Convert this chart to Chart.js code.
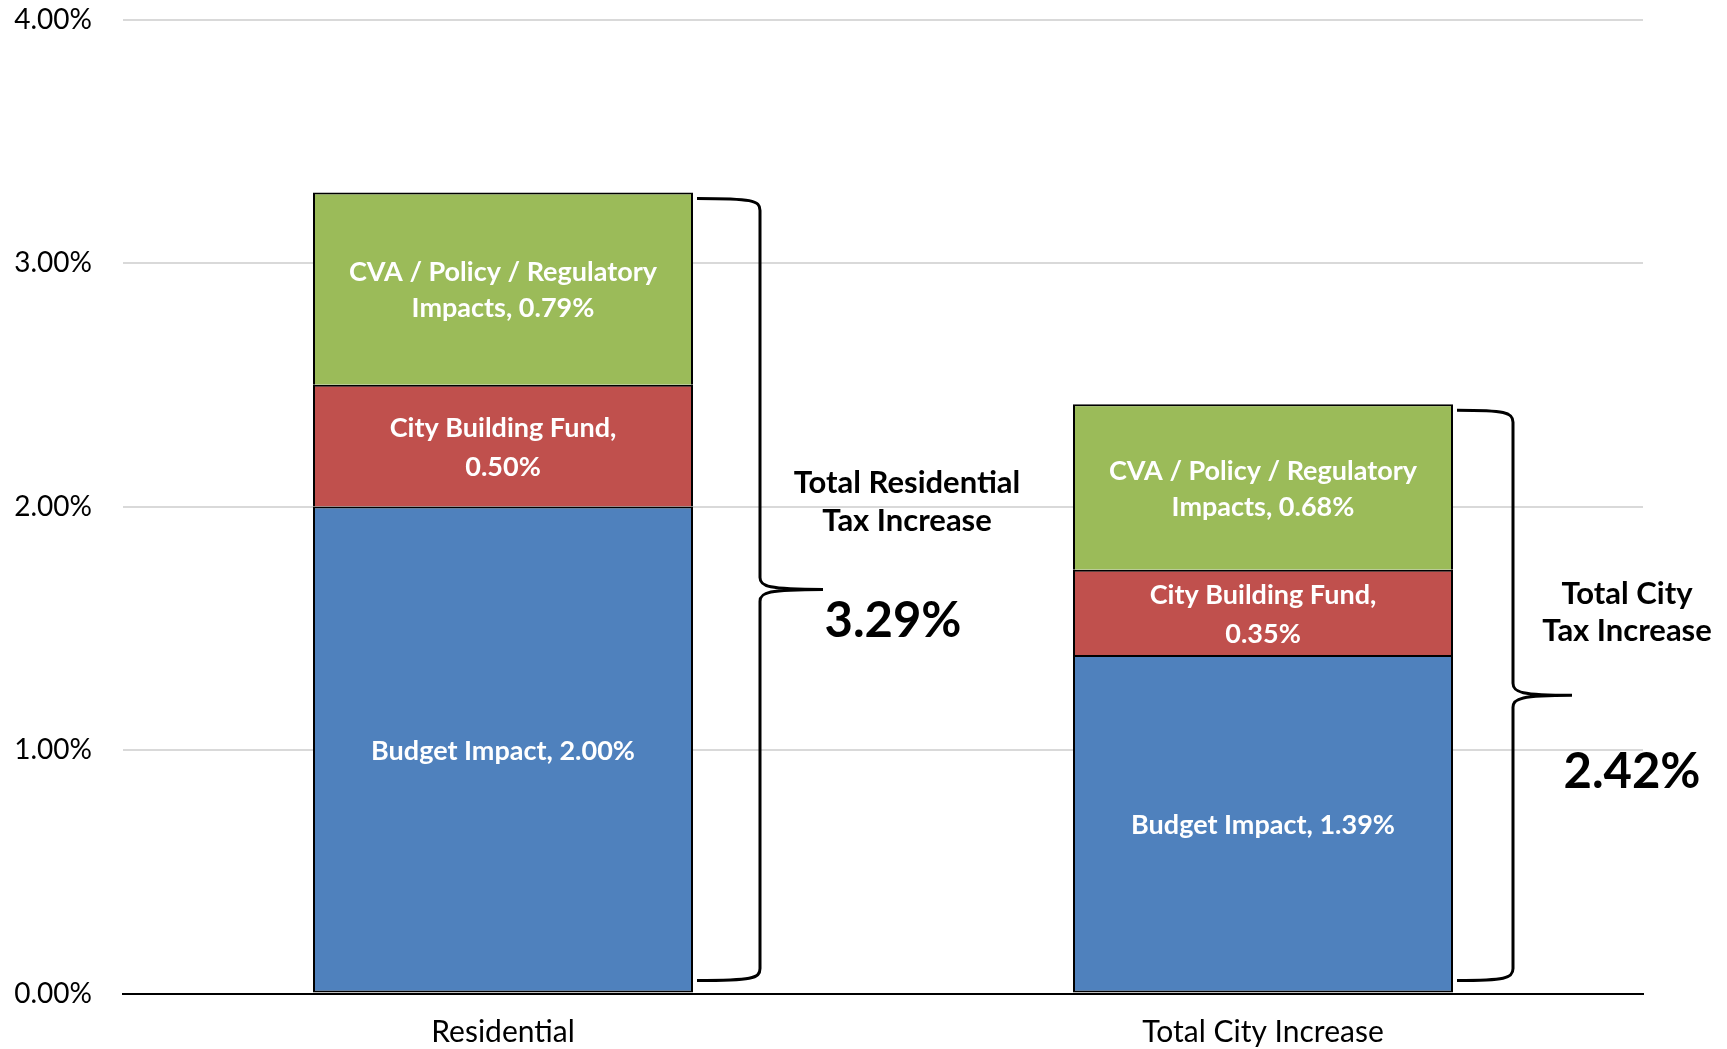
<!DOCTYPE html>
<html>
<head>
<meta charset="utf-8">
<script src="https://cdn.jsdelivr.net/npm/chart.js@4.4.0/dist/chart.umd.min.js"></script>
<style>
html, body { margin: 0; padding: 0; background: #fff; }
#wrap { width: 1727px; height: 1049px; }
</style>
</head>
<body>
<div id="wrap"><canvas id="graphCanvas" width="1727" height="1049"></canvas></div>
<script>
// chart values
var categories = ['Residential', 'Total City Increase'];
var budgetImpact = [2.00, 1.39];
var cityBuildingFund = [0.50, 0.35];
var cvaImpacts = [0.79, 0.68];
var yMin = 0, yMax = 4, yStep = 1;
var totalTitles = [['Total Residential', 'Tax Increase'], ['Total City', 'Tax Increase']];

function pct(v) { return v.toFixed(2) + '%'; }

// how each segment label wraps
var labelLines = [
    function (v) { return ['Budget Impact, ' + pct(v)]; },
    function (v) { return ['City Building Fund,', pct(v)]; },
    function (v) { return ['CVA / Policy / Regulatory', 'Impacts, ' + pct(v)]; }
];
var labelGap = [36, 39, 36];

// brace + text placement, relative to bar right edge / brace tip
var braceStyle = [
    { stem: 67, tip: 130, tx: 214, ty1: -106, ty2: -68, bx: 200, by: 32 },
    { stem: 60, tip: 119, tx: 174, ty1: -101, ty2: -64, bx: 179, by: 77 }
];

var segmentLabels = {
    id: 'segmentLabels',
    afterDatasetsDraw: function (chart) {
        var ctx = chart.ctx;
        ctx.save();
        ctx.fillStyle = '#ffffff';
        ctx.font = 'bold 27px Lato';
        ctx.textAlign = 'center';
        ctx.textBaseline = 'middle';
        chart.data.datasets.forEach(function (ds, i) {
            var meta = chart.getDatasetMeta(i);
            meta.data.forEach(function (bar, j) {
                var lines = labelLines[i](ds.data[j]);
                var cy = (bar.y + bar.base) / 2 + 2;
                var lh = labelGap[i];
                var start = cy - (lines.length - 1) * lh / 2;
                lines.forEach(function (t, k) {
                    ctx.fillText(t, bar.x, start + k * lh);
                });
            });
        });
        ctx.restore();
    }
};

var braces = {
    id: 'braces',
    afterDatasetsDraw: function (chart) {
        var ctx = chart.ctx;
        var y = chart.scales.y;
        var meta0 = chart.getDatasetMeta(0);
        ctx.save();
        categories.forEach(function (c, j) {
            var total = budgetImpact[j] + cityBuildingFund[j] + cvaImpacts[j];
            var bar = meta0.data[j];
            var right = bar.x + bar.width / 2;
            var s = braceStyle[j];
            var x0 = right + 4, x1 = right + s.stem, x2 = right + s.tip;
            var yTop = y.getPixelForValue(total) + 6;
            var yBot = y.getPixelForValue(0) - 13;
            var yMid = (yTop + yBot) / 2;

            ctx.strokeStyle = '#000';
            ctx.lineWidth = 3;
            ctx.lineJoin = 'round';
            ctx.beginPath();
            ctx.moveTo(x0, yTop);
            ctx.bezierCurveTo(x1 - 8, yTop, x1, yTop + 2, x1, yTop + 12);
            ctx.lineTo(x1, yMid - 12);
            ctx.bezierCurveTo(x1, yMid - 3, x1 + 8, yMid, x2, yMid);
            ctx.moveTo(x2, yMid);
            ctx.bezierCurveTo(x1 + 8, yMid, x1, yMid + 3, x1, yMid + 12);
            ctx.lineTo(x1, yBot - 12);
            ctx.bezierCurveTo(x1, yBot - 2, x1 - 8, yBot, x0, yBot);
            ctx.stroke();

            ctx.fillStyle = '#000';
            ctx.textAlign = 'center';
            ctx.textBaseline = 'middle';
            ctx.font = 'bold 31px Lato';
            ctx.fillText(totalTitles[j][0], right + s.tx, yMid + s.ty1);
            ctx.fillText(totalTitles[j][1], right + s.tx, yMid + s.ty2);
            ctx.font = 'bold 49px Lato';
            ctx.fillText(pct(total), right + s.bx, yMid + s.by);
        });
        ctx.restore();
    }
};

var side = { top: 2, left: 2, right: 2, bottom: 0 };
var all = { top: 2, left: 2, right: 2, bottom: 2 };

var chartdata = {
    labels: categories,
    datasets: [
        { label: 'Budget Impact', data: budgetImpact, backgroundColor: '#4F81BD',
          borderColor: '#000', borderWidth: all, borderSkipped: false },
        { label: 'City Building Fund', data: cityBuildingFund, backgroundColor: '#C0504D',
          borderColor: '#000', borderWidth: side, borderSkipped: false },
        { label: 'CVA / Policy / Regulatory Impacts', data: cvaImpacts, backgroundColor: '#9BBB59',
          borderColor: '#000', borderWidth: side, borderSkipped: false }
    ]
};

var barGraph = new Chart(document.getElementById('graphCanvas'), {
    type: 'bar',
    data: chartdata,
    options: {
        responsive: false,
        animation: false,
        devicePixelRatio: 1,
        layout: { padding: { top: 19.5, right: 84, bottom: 0, left: 0 } },
        datasets: { bar: { categoryPercentage: 1.0, barPercentage: 0.5 } },
        plugins: { legend: { display: false }, tooltip: { enabled: false } },
        scales: {
            x: {
                stacked: true,
                grid: { display: false, drawTicks: false },
                border: { display: true, color: '#000', width: 2 },
                ticks: { color: '#000', font: { family: 'Lato', size: 30 }, padding: 21 },
                afterFit: function (s) { s.height = 55.5; s.paddingLeft = 0; s.paddingRight = 0; }
            },
            y: {
                stacked: true,
                min: yMin, max: yMax,
                grid: { color: '#d9d9d9', lineWidth: 2, drawTicks: false },
                border: { display: false },
                ticks: { stepSize: yStep, color: '#000', font: { family: 'Lato', size: 28 }, padding: 31,
                         callback: function (v) { return pct(v); } },
                afterFit: function (s) { s.width = 123; s.paddingTop = 0; s.paddingBottom = 0; }
            }
        }
    },
    plugins: [segmentLabels, braces]
});
</script>
</body>
</html>
